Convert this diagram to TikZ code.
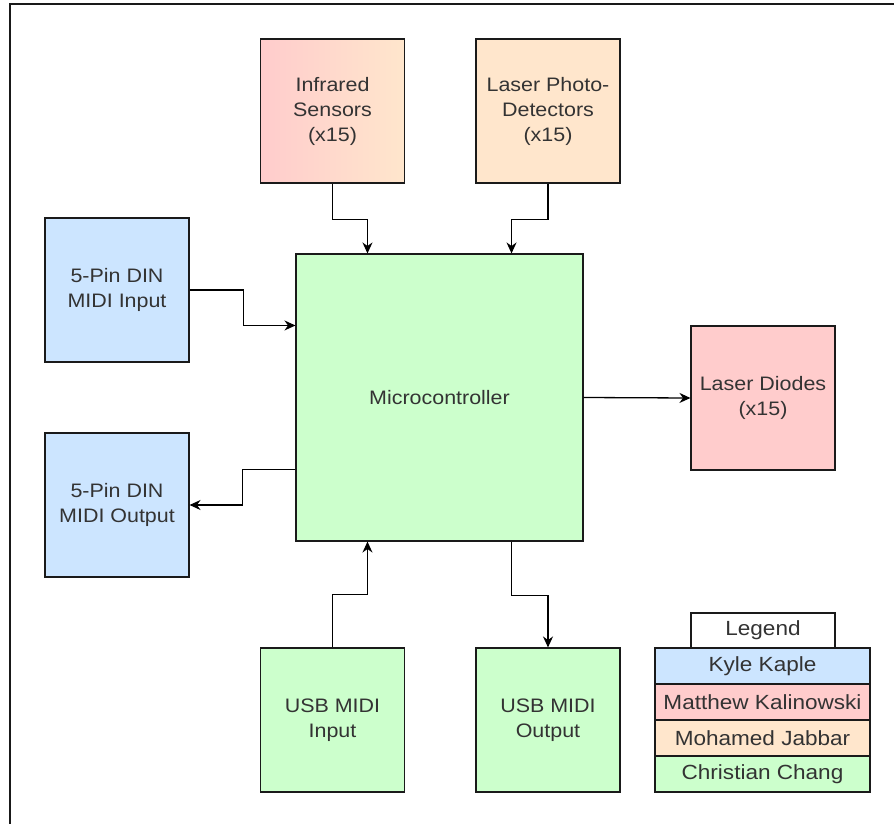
\documentclass[tikz,border=0pt]{standalone}
\usepackage{fontspec}
\setmainfont{Liberation Sans}[FakeStretch=1.1]
\usetikzlibrary{arrows.meta,calc}
\definecolor{cblue}{HTML}{CCE5FF}
\definecolor{cpink}{HTML}{FFCCCC}
\definecolor{cpeach}{HTML}{FFE6CC}
\definecolor{cgreen}{HTML}{CCFFCC}
\definecolor{ctext}{HTML}{333333}
\definecolor{cline}{HTML}{1A1A1A}
\begin{document}
\begin{tikzpicture}[x=1pt,y=-1pt,
  blk/.style={draw=cline,line width=1.1pt,minimum width=144pt,minimum height=144pt,inner sep=0pt,
    align=center,text=ctext,font=\fontsize{19.5}{25}\selectfont},
  leg/.style={draw=cline,line width=1.1pt,minimum width=215pt,minimum height=36pt,inner sep=0pt,
    text=ctext,font=\fontsize{20.5}{24}\selectfont},
  arr/.style={draw=black,line width=1.3pt,-{Stealth[length=11pt,width=10pt]}}]
\useasboundingbox (0,0) rectangle (894,824);
\fill[white] (0,0) rectangle (894,824);
% outer frame (left and top edges only visible)
\draw[line width=1.8pt,black!90] (10,824) -- (10,4) -- (894,4);
% blocks
\node[blk,left color=cpink,right color=cpeach] (ir) at (332.5,111) {Infrared\\Sensors\\(x15)};
\node[blk,fill=cpeach] (lpd) at (548,111) {Laser Photo-\\Detectors\\(x15)};
\node[blk,fill=cblue] (din) at (117,290) {5-Pin DIN\\MIDI Input};
\node[blk,fill=cblue] (dout) at (117,505) {5-Pin DIN\\MIDI Output};
\node[blk,fill=cgreen,minimum width=287pt,minimum height=287pt] (mc) at (439.5,397.5) {Microcontroller};
\node[blk,fill=cpink] (ld) at (763,398) {Laser Diodes\\(x15)};
\node[blk,fill=cgreen] (usbin) at (332.5,720) {USB MIDI\\Input};
\node[blk,fill=cgreen] (usbout) at (548,720) {USB MIDI\\Output};
% legend
\node[leg,fill=white,minimum width=144pt,minimum height=35pt] (lg) at (763,630.5) {Legend};
\node[leg,fill=cblue] (l1) at (762.5,666) {Kyle Kaple};
\node[leg,fill=cpink] (l2) at (762.5,702) {Matthew Kalinowski};
\node[leg,fill=cpeach] (l3) at (762.5,738) {Mohamed Jabbar};
\node[leg,fill=cgreen] (l4) at (762.5,774) {Christian Chang};
% connectors
\coordinate (mcT1) at ($(mc.north west)!0.25!(mc.north east)$);
\coordinate (mcT3) at ($(mc.north west)!0.75!(mc.north east)$);
\coordinate (mcB1) at ($(mc.south west)!0.25!(mc.south east)$);
\coordinate (mcB3) at ($(mc.south west)!0.75!(mc.south east)$);
\coordinate (mcL1) at ($(mc.north west)!0.25!(mc.south west)$);
\coordinate (mcL3) at ($(mc.north west)!0.75!(mc.south west)$);
\draw[arr] (ir.south) -- ++(0,36) -| (mcT1);
\draw[arr] (lpd.south) -- ++(0,36) -| (mcT3);
\draw[arr] (din.east) -- ++(54,0) |- (mcL1);
\draw[arr] (mcL3) -- ++(-53,0) |- (dout.east);
\draw[arr] (mc.east) -- (ld.west);
\draw[arr] (usbin.north) -- ++(0,-53) -| (mcB1);
\draw[arr] (mcB3) -- ++(0,54) -| (usbout.north);
\end{tikzpicture}
\end{document}
